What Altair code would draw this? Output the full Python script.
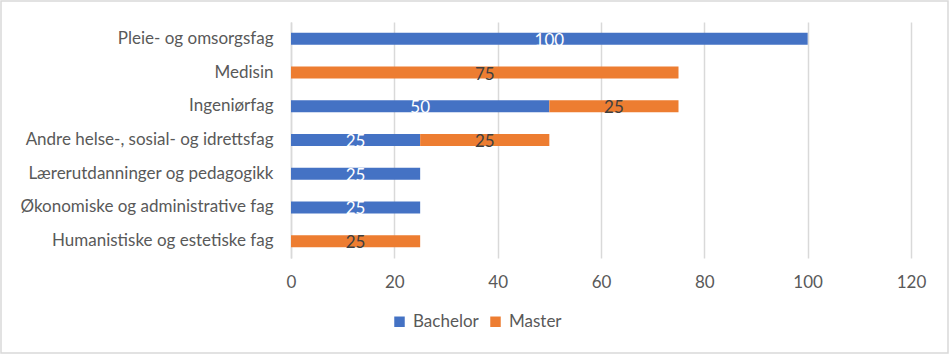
import altair as alt
import pandas as pd

categories = [
    "Pleie- og omsorgsfag",
    "Medisin",
    "Ingeniørfag",
    "Andre helse-, sosial- og idrettsfag",
    "Lærerutdanninger og pedagogikk",
    "Økonomiske og administrative fag",
    "Humanistiske og estetiske fag",
]
bachelor = [100, 0, 50, 25, 25, 25, 0]
master = [0, 75, 25, 25, 0, 0, 25]
series = ["Bachelor", "Master"]
x_ticks = [0, 20, 40, 60, 80, 100, 120]

rows = []
for c, b, m in zip(categories, bachelor, master):
    rows.append({"cat": c, "series": "Bachelor", "value": b, "ord": 0})
    rows.append({"cat": c, "series": "Master", "value": m, "ord": 1})
df = pd.DataFrame(rows)

FONT = "Lato"
GRAY = "#595959"
FS = 17

base = alt.Chart(df).transform_filter("datum.value > 0").transform_stack(
    stack="value", groupby=["cat"], as_=["start", "end"],
    sort=[alt.SortField("ord", order="ascending")]
).transform_calculate(mid="(datum.start + datum.end) / 2")

y_enc = alt.Y("cat:N", sort=categories, title=None,
              scale=alt.Scale(paddingInner=0.64, paddingOuter=0.32),
              axis=alt.Axis(labelFont=FONT, labelFontSize=FS, labelColor=GRAY,
                            ticks=False, domain=True, domainColor="#d9d9d9",
                            domainWidth=1.5, labelPadding=18, labelLimit=400))

bars = base.mark_bar(size=12).encode(
    x=alt.X("start:Q", title=None,
            scale=alt.Scale(domain=[0, 120], nice=False),
            axis=alt.Axis(values=x_ticks, labelFont=FONT, labelFontSize=FS,
                          labelColor=GRAY, ticks=False, domain=False,
                          grid=True, gridColor="#d9d9d9", gridWidth=1.5,
                          labelPadding=16, labelFlush=False)),
    x2="end:Q",
    y=y_enc,
    color=alt.Color("series:N", scale=alt.Scale(domain=series, range=["#4472C4", "#ED7D31"]),
                    legend=alt.Legend(title=None, orient="none", direction="horizontal",
                                      legendX=100, legendY=291, symbolType="square",
                                      symbolSize=110, symbolStrokeWidth=0,
                                      labelFont=FONT, labelFontSize=FS, labelColor=GRAY,
                                      columnPadding=8, labelOffset=5)),
)

labels = base.mark_text(font=FONT, fontSize=17, baseline="middle", dy=2).encode(
    x="mid:Q",
    y=alt.Y("cat:N", sort=categories),
    text=alt.Text("value:Q"),
    fill=alt.condition("datum.series == 'Bachelor'", alt.value("#FFFFFF"), alt.value("#404040")),
)

border = alt.Chart(pd.DataFrame({"a": [0]})).mark_rect(
    fill=None, stroke="#d9d9d9", strokeWidth=1.5
).encode(
    x=alt.value(-290), x2=alt.value(657), y=alt.value(-21), y2=alt.value(331)
)

chart = alt.layer(border, bars, labels).properties(
    width=620, height=236,
    autosize=alt.AutoSizeParams(type="none"),
    padding={"left": 291, "top": 22, "right": 38, "bottom": 96},
    background="white",
).configure_view(stroke=None)

chart.save("out.html", embed_options={"renderer": "svg", "actions": False})
